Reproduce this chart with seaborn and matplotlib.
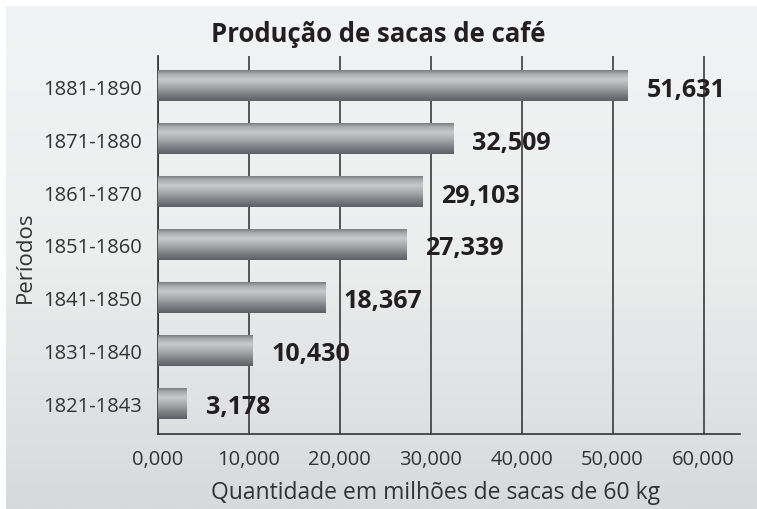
import numpy as np
import seaborn as sns
import matplotlib.pyplot as plt
from matplotlib.colors import LinearSegmentedColormap

# Produção de sacas de café (milhões de sacas de 60 kg)
periodos = ["1881-1890", "1871-1880", "1861-1870", "1851-1860",
            "1841-1850", "1831-1840", "1821-1843"]
sacas = [51.631, 32.509, 29.103, 27.339, 18.367, 10.430, 3.178]
xticks = [0, 10, 20, 30, 40, 50, 60]

sns.set_theme(style="white")
plt.rcParams['font.family'] = ['Open Sans', 'DejaVu Sans']

fig = plt.figure(figsize=(7.57, 5.10), dpi=100)
fig.patch.set_facecolor("white")

# grey panel behind everything
bg = fig.add_axes([6 / 757, 0, 751 / 757, 503 / 510], zorder=-1)
grad = np.linspace(0, 1, 256).reshape(-1, 1)
bg_cmap = LinearSegmentedColormap.from_list("bg", ["#f2f3f4", "#eceded", "#d8d9db"])
bg.imshow(grad, aspect="auto", cmap=bg_cmap, extent=(0, 1, 0, 1), origin="upper")
bg.axis("off")

ax = fig.add_axes([157.5 / 757, 1 - 435 / 510, (740 - 157.5) / 757, (435 - 57) / 510])
ax.set_facecolor("none")

sns.barplot(x=sacas, y=periodos, orient="h", color="#999999", width=0.575,
            ax=ax, zorder=3)

# metallic gradient on each bar
bar_cmap = LinearSegmentedColormap.from_list(
    "bar", [(0, "#7c7d80"), (0.12, "#a9aaac"), (0.3, "#c8c9cb"),
            (0.55, "#a5a6a9"), (0.8, "#7b7c80"), (1, "#5e5f64")])
for p in ax.patches:
    x0, y0 = p.get_x(), p.get_y()
    w, h = p.get_width(), p.get_height()
    p.set_facecolor("none")
    p.set_edgecolor("none")
    ax.imshow(grad, aspect="auto", cmap=bar_cmap, origin="upper",
              extent=(x0, x0 + w, y0 + h, y0), zorder=3)

for i, v in enumerate(sacas):
    ax.text(v + 2.1, i, f"{v:.3f}".replace(".", ","), va="center_baseline",
            ha="left", fontsize=18, fontweight="bold", color="#231f20", zorder=4)

ax.set_xlim(0, 64)
ax.set_ylim(6.57, -0.57)
ax.set_xticks(xticks)
ax.set_xticklabels([f"{t:.3f}".replace(".", ",") for t in xticks])
ax.tick_params(axis="x", length=0, labelsize=14.5, labelcolor="#333333", pad=11)
ax.tick_params(axis="y", length=0, labelsize=14.5, labelcolor="#333333", pad=11)
ax.xaxis.grid(True, color="#3a3a3a", linewidth=1.2, zorder=1)
ax.set_axisbelow(True)

for s in ["top", "right"]:
    ax.spines[s].set_visible(False)
for s in ["left", "bottom"]:
    ax.spines[s].set_color("#333333")
    ax.spines[s].set_linewidth(1.2)

ax.set_xlabel("Quantidade em milhões de sacas de 60 kg", fontsize=16.5,
              color="#333333")
ax.xaxis.set_label_coords((436 - 157.5) / 582.5, -(493 - 435) / 378)
ax.set_ylabel("Períodos", fontsize=16, color="#333333")
ax.yaxis.set_label_coords((25 - 157.5) / 582.5, (435 - 257) / 378)
ax.xaxis.label.set_va("center")
ax.yaxis.label.set_va("center")

fig.text(378 / 757, 1 - 35 / 510, "Produção de sacas de café", ha="center", va="center",
         fontsize=18.5, fontweight="bold", color="#231f20")

fig.savefig("out.png", dpi=100)
